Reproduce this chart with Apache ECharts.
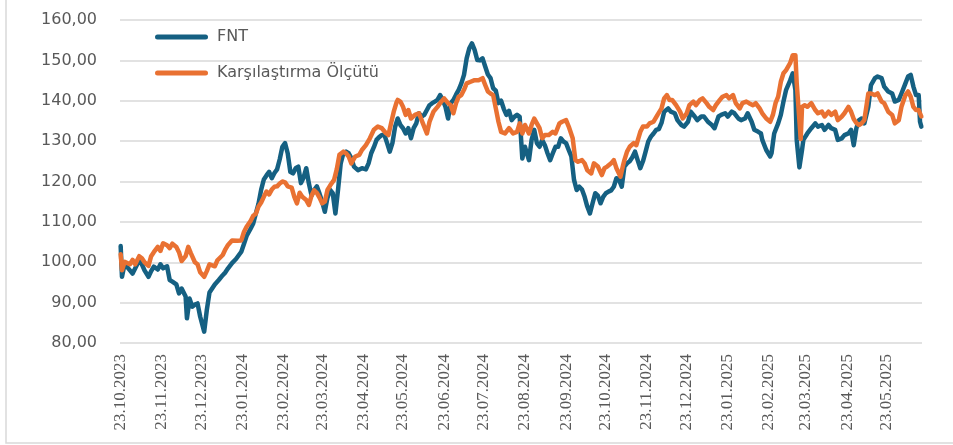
<!DOCTYPE html>
<html>
<head>
<meta charset="utf-8">
<script src="https://cdn.jsdelivr.net/npm/echarts@6/dist/echarts.min.js"></script>
<style>
  html, body { margin: 0; padding: 0; background: #ffffff; }
  #chart { width: 953px; height: 445px; }
</style>
</head>
<body>
<div id="chart"></div>
<script>
// Fund (FNT) index level, indexed to 100 at the start date
const FNT = [
  ['2023-10-23',104.0],['2023-10-24',96.4],['2023-10-26',99.6],['2023-10-30',98.0],['2023-11-01',97.2],
  ['2023-11-03',98.5],['2023-11-06',100.5],['2023-11-08',99.5],['2023-11-10',98.0],['2023-11-13',96.4],
  ['2023-11-15',97.8],['2023-11-17',98.9],['2023-11-20',98.2],['2023-11-22',99.5],['2023-11-24',98.5],
  ['2023-11-27',99.0],['2023-11-29',95.6],['2023-12-01',95.2],['2023-12-04',94.5],['2023-12-06',92.3],
  ['2023-12-08',93.5],['2023-12-11',91.5],['2023-12-12',86.1],['2023-12-14',91.0],['2023-12-16',89.0],
  ['2023-12-18',89.5],['2023-12-20',89.8],['2023-12-22',86.5],['2023-12-25',82.8],['2023-12-27',88.2],
  ['2023-12-29',92.5],['2024-01-02',94.5],['2024-01-05',95.6],['2024-01-08',96.8],['2024-01-10',97.5],
  ['2024-01-12',98.5],['2024-01-15',99.8],['2024-01-18',100.8],['2024-01-22',102.6],['2024-01-24',104.5],
  ['2024-01-26',106.5],['2024-01-29',108.3],['2024-01-31',109.6],['2024-02-02',112.1],['2024-02-04',114.5],
  ['2024-02-06',118.0],['2024-02-08',120.5],['2024-02-10',121.5],['2024-02-12',122.4],['2024-02-14',120.8],
  ['2024-02-16',122.1],['2024-02-18',123.0],['2024-02-20',125.5],['2024-02-22',128.6],['2024-02-24',129.5],
  ['2024-02-26',127.0],['2024-02-28',122.4],['2024-03-01',122.0],['2024-03-03',123.3],['2024-03-05',123.7],
  ['2024-03-07',119.6],['2024-03-09',121.0],['2024-03-11',123.3],['2024-03-13',119.5],['2024-03-15',116.5],
  ['2024-03-17',117.9],['2024-03-19',118.8],['2024-03-21',117.0],['2024-03-23',115.0],['2024-03-25',112.5],
  ['2024-03-27',116.0],['2024-03-29',117.9],['2024-03-31',117.1],['2024-04-02',112.1],['2024-04-04',118.0],
  ['2024-04-06',124.5],['2024-04-08',127.0],['2024-04-10',127.4],['2024-04-12',127.0],['2024-04-14',125.8],
  ['2024-04-16',123.7],['2024-04-19',122.8],['2024-04-22',123.3],['2024-04-25',123.0],['2024-04-27',124.5],
  ['2024-04-29',127.0],['2024-05-01',128.5],['2024-05-03',130.3],['2024-05-05',131.0],['2024-05-07',131.5],
  ['2024-05-09',131.5],['2024-05-11',129.5],['2024-05-13',127.4],['2024-05-15',129.5],['2024-05-17',133.5],
  ['2024-05-19',135.6],['2024-05-21',134.0],['2024-05-23',133.2],['2024-05-25',131.9],['2024-05-27',133.2],
  ['2024-05-29',130.7],['2024-05-31',133.2],['2024-06-02',134.4],['2024-06-04',136.9],['2024-06-06',136.1],
  ['2024-06-08',136.5],['2024-06-10',137.7],['2024-06-12',138.9],['2024-06-14',139.4],['2024-06-16',139.8],
  ['2024-06-18',140.2],['2024-06-20',141.4],['2024-06-22',140.2],['2024-06-24',138.5],['2024-06-26',135.6],
  ['2024-06-28',139.4],['2024-06-30',140.2],['2024-07-02',141.5],['2024-07-04',142.7],['2024-07-06',144.3],
  ['2024-07-08',146.4],['2024-07-10',150.5],['2024-07-12',153.0],['2024-07-14',154.2],['2024-07-16',152.6],
  ['2024-07-18',150.1],['2024-07-20',150.0],['2024-07-22',150.5],['2024-07-24',148.5],['2024-07-26',146.5],
  ['2024-07-28',145.6],['2024-07-30',143.1],['2024-08-01',142.5],['2024-08-03',139.4],['2024-08-05',140.0],
  ['2024-08-07',138.0],['2024-08-09',136.5],['2024-08-11',137.5],['2024-08-13',135.2],['2024-08-15',136.0],
  ['2024-08-17',136.5],['2024-08-19',136.0],['2024-08-21',125.7],['2024-08-23',128.6],['2024-08-26',125.3],
  ['2024-08-28',130.3],['2024-08-30',132.8],['2024-09-01',129.5],['2024-09-03',128.6],['2024-09-05',130.3],
  ['2024-09-07',129.0],['2024-09-09',127.0],['2024-09-11',125.3],['2024-09-13',127.0],['2024-09-15',128.6],
  ['2024-09-17',128.6],['2024-09-19',130.7],['2024-09-21',129.9],['2024-09-23',129.5],['2024-09-25',127.8],
  ['2024-09-27',126.2],['2024-09-29',120.4],['2024-10-01',117.9],['2024-10-03',118.7],['2024-10-05',118.0],
  ['2024-10-07',116.2],['2024-10-09',113.8],['2024-10-11',112.1],['2024-10-13',114.6],['2024-10-15',117.1],
  ['2024-10-17',116.5],['2024-10-19',114.6],['2024-10-21',116.2],['2024-10-23',117.1],['2024-10-25',117.5],
  ['2024-10-27',117.8],['2024-10-29',118.7],['2024-10-31',120.8],['2024-11-02',120.4],['2024-11-04',118.7],
  ['2024-11-06',123.7],['2024-11-08',124.5],['2024-11-10',125.0],['2024-11-12',126.0],['2024-11-14',127.4],
  ['2024-11-16',125.3],['2024-11-18',123.3],['2024-11-20',125.0],['2024-11-22',127.4],['2024-11-24',129.9],
  ['2024-11-26',131.1],['2024-11-28',131.9],['2024-11-30',132.8],['2024-12-02',133.0],['2024-12-04',134.5],
  ['2024-12-06',137.3],['2024-12-09',138.1],['2024-12-11',137.3],['2024-12-14',136.9],['2024-12-16',135.2],
  ['2024-12-19',134.0],['2024-12-21',133.6],['2024-12-24',134.8],['2024-12-26',137.3],['2024-12-29',136.1],
  ['2024-12-31',135.2],['2025-01-03',136.1],['2025-01-05',136.1],['2025-01-08',134.8],['2025-01-11',134.0],
  ['2025-01-13',133.2],['2025-01-16',136.1],['2025-01-18',136.5],['2025-01-21',136.9],['2025-01-23',136.1],
  ['2025-01-26',137.3],['2025-01-28',136.9],['2025-01-31',135.6],['2025-02-02',135.2],['2025-02-05',135.6],
  ['2025-02-07',136.9],['2025-02-10',134.8],['2025-02-12',132.8],['2025-02-15',132.3],['2025-02-17',131.9],
  ['2025-02-18',130.3],['2025-02-21',127.8],['2025-02-24',126.2],['2025-02-25',127.0],['2025-02-26',129.5],
  ['2025-02-27',131.9],['2025-03-02',134.4],['2025-03-04',136.5],['2025-03-06',139.8],['2025-03-08',142.7],
  ['2025-03-11',145.0],['2025-03-13',146.8],['2025-03-14',147.2],['2025-03-15',142.7],['2025-03-16',130.3],
  ['2025-03-18',123.5],['2025-03-20',127.8],['2025-03-21',130.3],['2025-03-24',131.9],['2025-03-27',133.2],
  ['2025-03-30',134.4],['2025-04-01',133.6],['2025-04-04',134.0],['2025-04-06',132.8],['2025-04-09',134.0],
  ['2025-04-11',133.2],['2025-04-14',132.8],['2025-04-16',130.3],['2025-04-19',130.7],['2025-04-21',131.5],
  ['2025-04-24',131.9],['2025-04-26',132.8],['2025-04-28',129.0],['2025-04-30',133.2],['2025-05-02',135.2],
  ['2025-05-04',135.6],['2025-05-06',134.4],['2025-05-09',138.5],['2025-05-11',143.9],['2025-05-14',145.6],
  ['2025-05-16',146.0],['2025-05-19',145.6],['2025-05-21',143.5],['2025-05-24',142.3],['2025-05-27',141.8],
  ['2025-05-29',139.8],['2025-06-01',140.2],['2025-06-03',141.8],['2025-06-06',144.3],['2025-06-08',146.0],
  ['2025-06-10',146.4],['2025-06-12',143.5],['2025-06-14',141.4],['2025-06-16',141.4],['2025-06-17',134.8],
  ['2025-06-18',133.6]
];

// Benchmark (Karşılaştırma Ölçütü) level on the same base
const BENCHMARK = [
  ['2023-10-23',102.0],['2023-10-24',98.0],['2023-10-26',100.1],['2023-10-30',99.5],['2023-11-01',100.6],
  ['2023-11-03',99.5],['2023-11-06',101.5],['2023-11-08',101.0],['2023-11-10',100.0],['2023-11-13',99.1],
  ['2023-11-15',101.5],['2023-11-17',102.5],['2023-11-20',103.8],['2023-11-22',102.8],['2023-11-24',104.7],
  ['2023-11-27',104.2],['2023-11-29',103.5],['2023-12-01',104.6],['2023-12-04',103.8],['2023-12-06',102.5],
  ['2023-12-08',100.3],['2023-12-11',101.5],['2023-12-13',103.8],['2023-12-15',102.2],['2023-12-18',100.0],
  ['2023-12-20',99.5],['2023-12-22',97.5],['2023-12-25',96.4],['2023-12-27',97.8],['2023-12-29',99.5],
  ['2024-01-02',99.0],['2024-01-04',100.5],['2024-01-08',101.8],['2024-01-10',103.2],['2024-01-12',104.3],
  ['2024-01-15',105.4],['2024-01-19',105.3],['2024-01-22',105.4],['2024-01-24',107.5],['2024-01-26',108.8],
  ['2024-01-29',110.2],['2024-01-31',111.5],['2024-02-02',112.0],['2024-02-04',113.8],['2024-02-06',114.8],
  ['2024-02-08',116.2],['2024-02-10',117.5],['2024-02-12',116.8],['2024-02-14',118.0],['2024-02-16',118.7],
  ['2024-02-18',118.8],['2024-02-20',119.5],['2024-02-22',120.0],['2024-02-24',119.8],['2024-02-26',118.8],
  ['2024-02-29',118.5],['2024-03-02',116.2],['2024-03-04',114.6],['2024-03-06',117.2],['2024-03-08',116.2],
  ['2024-03-11',115.4],['2024-03-13',114.2],['2024-03-15',116.5],['2024-03-17',117.8],['2024-03-19',117.2],
  ['2024-03-21',116.0],['2024-03-23',114.6],['2024-03-25',115.0],['2024-03-27',117.9],['2024-03-29',119.0],
  ['2024-04-01',120.4],['2024-04-03',123.0],['2024-04-05',126.6],['2024-04-08',127.4],['2024-04-10',127.0],
  ['2024-04-12',126.2],['2024-04-14',124.5],['2024-04-17',126.2],['2024-04-20',126.6],['2024-04-22',127.8],
  ['2024-04-25',129.0],['2024-04-28',130.7],['2024-05-01',132.8],['2024-05-04',133.6],['2024-05-07',133.2],
  ['2024-05-10',132.0],['2024-05-12',131.5],['2024-05-14',134.4],['2024-05-16',137.3],['2024-05-18',139.5],
  ['2024-05-19',140.2],['2024-05-21',139.8],['2024-05-23',138.5],['2024-05-25',136.5],['2024-05-27',137.7],
  ['2024-05-29',135.6],['2024-06-01',136.5],['2024-06-04',136.9],['2024-06-07',134.4],['2024-06-10',131.9],
  ['2024-06-12',134.8],['2024-06-15',137.3],['2024-06-18',138.5],['2024-06-20',139.4],['2024-06-23',140.6],
  ['2024-06-26',139.4],['2024-06-28',138.9],['2024-06-30',136.9],['2024-07-02',139.4],['2024-07-04',141.0],
  ['2024-07-06',141.4],['2024-07-08',142.7],['2024-07-10',144.3],['2024-07-13',144.7],['2024-07-16',145.1],
  ['2024-07-19',145.1],['2024-07-22',145.6],['2024-07-24',143.9],['2024-07-26',142.3],['2024-07-28',141.8],
  ['2024-07-30',141.4],['2024-08-01',138.1],['2024-08-03',134.8],['2024-08-05',132.3],['2024-08-08',131.9],
  ['2024-08-11',133.2],['2024-08-14',131.9],['2024-08-17',132.3],['2024-08-19',134.4],['2024-08-21',131.9],
  ['2024-08-23',134.0],['2024-08-26',131.9],['2024-08-28',134.0],['2024-08-30',135.6],['2024-09-01',134.4],
  ['2024-09-03',133.2],['2024-09-05',130.7],['2024-09-07',131.5],['2024-09-10',131.5],['2024-09-13',132.3],
  ['2024-09-15',131.9],['2024-09-18',134.4],['2024-09-20',134.8],['2024-09-23',135.2],['2024-09-25',133.6],
  ['2024-09-28',130.7],['2024-09-30',125.3],['2024-10-02',124.9],['2024-10-05',125.3],['2024-10-07',124.5],
  ['2024-10-09',122.8],['2024-10-12',122.0],['2024-10-14',124.5],['2024-10-17',123.7],['2024-10-20',121.6],
  ['2024-10-22',123.3],['2024-10-24',123.7],['2024-10-27',124.5],['2024-10-29',125.3],['2024-10-31',123.3],
  ['2024-11-03',121.2],['2024-11-05',124.0],['2024-11-06',125.3],['2024-11-08',127.4],['2024-11-10',128.6],
  ['2024-11-13',129.5],['2024-11-15',129.0],['2024-11-18',132.3],['2024-11-20',133.6],['2024-11-23',133.6],
  ['2024-11-25',134.4],['2024-11-28',134.8],['2024-12-01',136.5],['2024-12-04',138.1],['2024-12-06',140.6],
  ['2024-12-08',141.4],['2024-12-10',140.2],['2024-12-12',140.2],['2024-12-15',138.9],['2024-12-18',137.3],
  ['2024-12-20',135.6],['2024-12-23',136.9],['2024-12-25',138.9],['2024-12-28',139.8],['2024-12-30',138.9],
  ['2025-01-02',140.2],['2025-01-04',140.6],['2025-01-07',139.4],['2025-01-09',138.5],['2025-01-12',137.7],
  ['2025-01-14',138.9],['2025-01-17',140.2],['2025-01-19',141.0],['2025-01-22',141.4],['2025-01-24',140.6],
  ['2025-01-27',141.4],['2025-01-29',139.4],['2025-02-01',138.1],['2025-02-03',139.4],['2025-02-06',139.8],
  ['2025-02-08',139.4],['2025-02-11',138.9],['2025-02-13',139.4],['2025-02-16',138.1],['2025-02-18',136.9],
  ['2025-02-21',135.6],['2025-02-24',134.8],['2025-02-26',136.5],['2025-02-28',139.4],['2025-03-02',141.0],
  ['2025-03-04',144.7],['2025-03-06',146.8],['2025-03-08',147.6],['2025-03-11',149.3],['2025-03-13',151.3],
  ['2025-03-15',151.3],['2025-03-16',144.3],['2025-03-18',135.2],['2025-03-19',130.5],['2025-03-20',138.5],
  ['2025-03-22',138.9],['2025-03-24',138.5],['2025-03-27',139.4],['2025-03-30',137.7],['2025-04-01',136.9],
  ['2025-04-04',137.3],['2025-04-06',136.1],['2025-04-09',137.3],['2025-04-11',136.5],['2025-04-14',137.3],
  ['2025-04-16',135.2],['2025-04-19',136.1],['2025-04-21',136.9],['2025-04-24',138.5],['2025-04-26',137.3],
  ['2025-04-28',135.5],['2025-04-30',134.5],['2025-05-02',134.0],['2025-05-04',134.4],['2025-05-06',135.2],
  ['2025-05-09',141.8],['2025-05-11',141.8],['2025-05-14',141.4],['2025-05-16',141.8],['2025-05-19',139.8],
  ['2025-05-21',139.4],['2025-05-24',137.3],['2025-05-27',136.5],['2025-05-29',134.4],['2025-06-01',135.2],
  ['2025-06-03',138.5],['2025-06-06',141.4],['2025-06-08',142.3],['2025-06-10',141.0],['2025-06-12',138.5],
  ['2025-06-14',137.7],['2025-06-16',137.7],['2025-06-18',136.1]
];

// Monthly date labels on the horizontal axis
const X_TICKS = [
  '2023-10-23','2023-11-23','2023-12-23','2024-01-23','2024-02-23','2024-03-23','2024-04-23',
  '2024-05-23','2024-06-23','2024-07-23','2024-08-23','2024-09-23','2024-10-23','2024-11-23',
  '2024-12-23','2025-01-23','2025-02-23','2025-03-23','2025-04-23','2025-05-23'
];

const Y_MIN = 80, Y_MAX = 160, Y_STEP = 10;
const SERIES_NAMES = ['FNT', 'Karşılaştırma Ölçütü'];
const COLORS = ['#156082', '#E97132'];

const DAY = 86400000;
const toTime = s => { const p = s.split('-').map(Number); return Date.UTC(p[0], p[1] - 1, p[2]); };
const xMin = toTime(FNT[0][0]) - DAY / 2;
const xMax = toTime(FNT[FNT.length - 1][0]) + DAY / 2;
const pad = n => (n < 10 ? '0' : '') + n;
const fmtDate = v => { const d = new Date(v); return pad(d.getUTCDate()) + '.' + pad(d.getUTCMonth() + 1) + '.' + d.getUTCFullYear(); };

// Legend key: a short thick stroke with rounded ends
const KEY_ICON = 'path://M2.5,0 L50.5,0 A2.5,2.5 0 0 1 50.5,5 L2.5,5 A2.5,2.5 0 0 1 2.5,0 Z';

const chart = echarts.init(document.getElementById('chart'), null, { renderer: 'canvas' });

const lineSeries = (name, data, color) => ({
  name: name,
  type: 'line',
  data: data.map(d => [toTime(d[0]), d[1]]),
  showSymbol: false,
  symbol: 'none',
  smooth: false,
  lineStyle: { color: color, width: 4.5, join: 'round', cap: 'round' },
  itemStyle: { color: color },
  emphasis: { disabled: true }
});

chart.setOption({
  animation: false,
  backgroundColor: '#ffffff',
  graphic: [{
    type: 'rect',
    shape: { x: 6, y: -10, width: 960, height: 453 },
    style: { fill: 'none', stroke: '#D9D9D9', lineWidth: 1.5 },
    silent: true,
    z: -1
  }],
  grid: { left: 120, right: 31, top: 20, bottom: 102, containLabel: false },
  legend: {
    orient: 'vertical',
    left: 150,
    top: 23,
    itemWidth: 53,
    itemHeight: 5,
    itemGap: 18,
    icon: KEY_ICON,
    data: SERIES_NAMES,
    textStyle: {
      fontFamily: 'DejaVu Sans',
      fontSize: 16,
      color: '#595959',
      lineHeight: 18,
      padding: [0, 0, 0, 4]
    },
    selectedMode: false
  },
  xAxis: {
    type: 'value',
    min: xMin,
    max: xMax,
    axisLine: { show: false },
    axisTick: { show: false },
    splitLine: { show: false },
    axisLabel: {
      customValues: X_TICKS.map(toTime),
      rotate: 90,
      margin: 11,
      color: '#595959',
      fontFamily: 'Liberation Sans Narrow',
      fontSize: 17,
      formatter: fmtDate,
      hideOverlap: false
    }
  },
  yAxis: {
    type: 'value',
    min: Y_MIN,
    max: Y_MAX,
    interval: Y_STEP,
    axisLine: { show: false },
    axisTick: { show: false },
    splitLine: { lineStyle: { color: '#D9D9D9', width: 1.5 } },
    axisLabel: {
      margin: 23,
      color: '#595959',
      fontFamily: 'DejaVu Sans',
      fontSize: 16,
      formatter: v => v.toFixed(2).replace('.', ',')
    }
  },
  series: [
    lineSeries(SERIES_NAMES[0], FNT, COLORS[0]),
    lineSeries(SERIES_NAMES[1], BENCHMARK, COLORS[1])
  ]
});
</script>
</body>
</html>
